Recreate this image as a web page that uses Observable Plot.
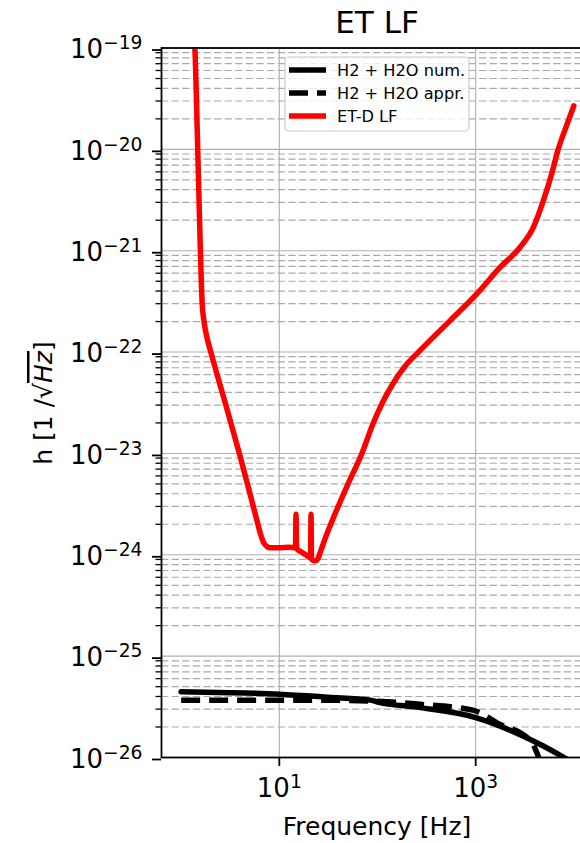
<!DOCTYPE html>
<html>
<head>
<meta charset="utf-8">
<script src="https://cdn.jsdelivr.net/npm/d3@7"></script>
<script src="https://cdn.jsdelivr.net/npm/@observablehq/plot@0.6"></script>
<style>
  html, body { margin: 0; padding: 0; background: white; overflow: hidden; }
</style>
</head>
<body>
<div id="chart"></div>
<script>
// ---- data (log10 values) ----
const etdLogF = [0.05, 0.14, 0.169, 0.196, 0.214, 0.232, 0.264, 0.308, 0.433, 0.596, 0.773, 0.81, 0.84, 0.87, 0.90, 1.00, 1.10, 1.165, 1.170, 1.176, 1.22, 1.27, 1.318, 1.323, 1.328, 1.355, 1.38, 1.405, 1.434, 1.49, 1.552, 1.70, 1.841, 1.953, 2.05, 2.146, 2.28, 2.417, 2.74, 3.011, 3.248, 3.452, 3.587, 3.689, 3.774, 3.84, 3.92, 4.0];
const etdLogH = [-18.0, -19.0, -20.0, -21.0, -21.52, -21.69, -21.86, -22.02, -22.447, -23.01, -23.665, -23.80, -23.88, -23.915, -23.93, -23.93, -23.925, -23.93, -23.60, -23.94, -23.97, -24.0, -24.03, -23.60, -24.045, -24.058, -24.055, -24.01, -23.928, -23.78, -23.632, -23.30, -23.0, -22.71, -22.50, -22.33, -22.14, -22.0, -21.69, -21.426, -21.164, -20.966, -20.77, -20.505, -20.242, -20.0, -19.78, -19.57];

const numLogF = [0.0, 0.5, 1.0, 1.5, 1.926, 2.027, 2.434, 3.0, 3.384, 3.689, 3.9, 4.0];
const numLogH = [-25.352, -25.36, -25.375, -25.405, -25.434, -25.458, -25.508, -25.606, -25.745, -25.886, -26.0, -26.06];

const apprLogF = [0.0, 0.5, 1.0, 1.5, 2.0, 2.434, 2.97, 3.25, 3.52, 3.58, 3.63, 3.68];
const apprLogH = [-25.434, -25.434, -25.434, -25.435, -25.445, -25.475, -25.533, -25.675, -25.80, -25.86, -25.97, -26.1];

const seriesNames = ["H2 + H2O num.", "H2 + H2O appr.", "ET-D LF"];

const xMajor = [10, 1000];
const xTickLabels = ["10^1", "10^3"];
const yMajor = [1e-26, 1e-25, 1e-24, 1e-23, 1e-22, 1e-21, 1e-20, 1e-19];
const yTickLabels = ["10^\u221226", "10^\u221225", "10^\u221224", "10^\u221223", "10^\u221222", "10^\u221221", "10^\u221220", "10^\u221219"];
const minorMultipliers = [2, 3, 4, 5, 6, 7, 8, 9];
const yMinor = yMajor.slice(0, -1).flatMap(d => minorMultipliers.map(m => m * d));

const toRows = (lf, lh) => lf.map((v, i) => ({f: 10 ** v, h: 10 ** lh[i]}));
const etd = toRows(etdLogF, etdLogH);
const num = toRows(numLogF, numLogH);
const appr = toRows(apprLogF, apprLogH);

const font = "DejaVu Sans, Verdana, sans-serif";
const lineW = 5.5;

const chart = Plot.plot({
  width: 580,
  height: 843,
  marginTop: 47.5,
  marginBottom: 86,
  marginLeft: 161,
  marginRight: -13,
  x: {type: "log", domain: [10 ** -0.2, 10 ** 4.2]},
  y: {type: "log", domain: [1e-26, 1e-19]},
  style: {fontFamily: font, fontSize: "26px", color: "black", background: "white"},
  marks: [
    Plot.ruleY(yMinor, {stroke: "#aaaaaa", strokeWidth: 1.2, strokeDasharray: "7.4,3.2"}),
    Plot.ruleY(yMajor, {stroke: "#b0b0b0", strokeWidth: 1.1}),
    Plot.ruleX(xMajor, {stroke: "#b0b0b0", strokeWidth: 1.1}),
    Plot.line(num, {x: "f", y: "h", stroke: "black", strokeWidth: lineW, curve: "monotone-x", clip: true}),
    Plot.line(appr, {x: "f", y: "h", stroke: "black", strokeWidth: lineW, strokeDasharray: "19,9", strokeLinecap: "butt", curve: "monotone-x", clip: true}),
    Plot.line(etd, {x: "f", y: "h", stroke: "red", strokeWidth: lineW, strokeLinejoin: "round", curve: "monotone-x", clip: true}),
    Plot.frame({stroke: "black", strokeWidth: 1.8}),
    Plot.axisY(yMinor, {tickSize: 5.5, tickFormat: () => "", strokeWidth: 1.3, label: null}),
    Plot.axisY(yMajor, {tickSize: 9, tickPadding: 10, dy: 2, strokeWidth: 1.8, label: null,
      tickFormat: d => yTickLabels[yMajor.indexOf(d)]}),
    Plot.axisX(xMajor, {tickSize: 9, tickPadding: 12, strokeWidth: 1.8, label: null,
      tickFormat: d => xTickLabels[xMajor.indexOf(d)]})
  ]
});

document.getElementById("chart").appendChild(chart);
const svg = d3.select(chart);

// superscripts on tick labels
svg.selectAll('[aria-label="y-axis tick label"] text, [aria-label="x-axis tick label"] text').each(function () {
  const t = this.textContent;
  if (!t.includes("^")) return;
  const [b, e] = t.split("^");
  const s = d3.select(this);
  s.text(null);
  s.append("tspan").text(b);
  s.append("tspan").attr("dy", "-0.48em").attr("font-size", "0.72em").text(e);
});

// title
svg.append("text").attr("x", 377).attr("y", 33).attr("text-anchor", "middle")
  .attr("font-family", font).attr("font-size", 31).text("ET LF");

// x label
svg.append("text").attr("x", 377).attr("y", 835).attr("text-anchor", "middle")
  .attr("font-family", font).attr("font-size", 25).text("Frequency [Hz]");

// y label
const yl = svg.append("text").attr("transform", "translate(52,403) rotate(-90)")
  .attr("text-anchor", "middle").attr("font-family", font).attr("font-size", 25);
yl.append("tspan").text("h [1 /\u221A");
yl.append("tspan").attr("font-style", "italic").style("text-decoration", "overline").text("Hz");
yl.append("tspan").text("]");

// legend
const lg = svg.append("g").attr("text-anchor", "start");
lg.append("rect").attr("x", 285).attr("y", 57).attr("width", 184).attr("height", 74).attr("rx", 4)
  .attr("fill", "white").attr("fill-opacity", 0.8).attr("stroke", "#cccccc").attr("stroke-width", 1.2);
const legendStyles = [
  {stroke: "black", dash: null},
  {stroke: "black", dash: "19,9"},
  {stroke: "red", dash: null}
];
seriesNames.forEach((name, i) => {
  const y = 70 + i * 23;
  lg.append("line").attr("x1", 289).attr("x2", 326).attr("y1", y).attr("y2", y)
    .attr("stroke", legendStyles[i].stroke).attr("stroke-width", lineW)
    .attr("stroke-dasharray", legendStyles[i].dash);
  lg.append("text").attr("x", 337).attr("y", y + 6).attr("font-family", font)
    .attr("font-size", 16.2).attr("text-anchor", "start").text(name);
});
</script>
</body>
</html>
